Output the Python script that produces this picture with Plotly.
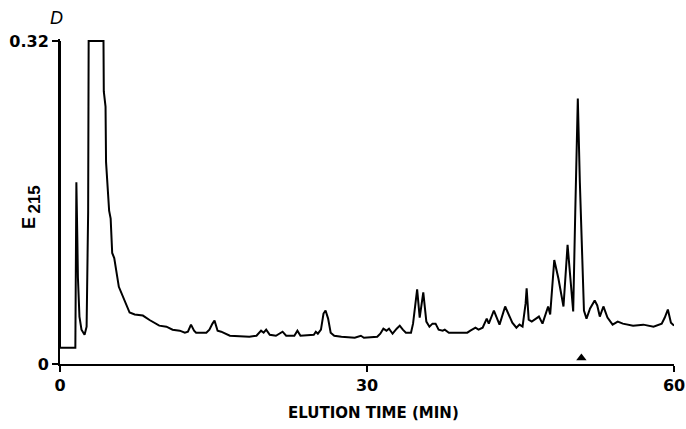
import plotly.graph_objects as go

# Elution time (min) and absorbance at 215 nm
time_min = [
    0.0, 0.0, 1.5, 1.55, 1.6, 1.7, 1.75, 1.9, 2.1, 2.4, 2.6, 2.75, 2.8,
    4.25, 4.28, 4.45, 4.5, 4.8, 4.95, 5.1, 5.3, 5.75, 6.15, 6.5, 6.8, 7.3,
    7.8, 8.1, 8.75, 9.0, 9.7, 10.4, 11.0, 11.7, 12.2, 12.5, 12.8, 13.1, 13.3,
    14.3, 14.6, 14.9, 15.1, 15.4, 15.75, 16.6, 18.5, 19.2, 19.65, 19.9, 20.15,
    20.5, 21.1, 21.75, 22.1, 22.9, 23.2, 23.5, 24.8, 25.0, 25.2, 25.5, 25.75,
    25.95, 26.2, 26.45, 26.8, 27.5, 28.8, 29.4, 29.7, 31.0, 31.3, 31.6, 31.9,
    32.15, 32.5, 32.9, 33.2, 33.5, 33.8, 34.3, 34.5, 34.9, 35.15, 35.5, 35.8,
    36.1, 36.4, 36.7, 37.0, 37.4, 37.6, 38.0, 39.0, 39.8, 40.1, 40.6, 40.9,
    41.3, 41.7, 41.9, 42.4, 42.95, 43.5, 44.2, 44.6, 44.9, 45.2, 45.5, 45.6,
    45.8, 46.1, 46.5, 46.8, 47.15, 47.5, 47.7, 47.9, 48.3, 48.7, 49.1, 49.2,
    49.6, 49.9, 50.15, 50.35, 50.6, 50.8, 51.2, 51.45, 51.8, 52.25, 52.5,
    52.75, 53.1, 53.5, 54.0, 54.5, 55.0, 56.0, 57.0, 58.0, 58.8, 59.1, 59.4,
    59.7, 60.0,
]
absorbance = [
    0.32, 0.016, 0.016, 0.10, 0.18, 0.12, 0.086, 0.047, 0.034, 0.029, 0.037, 0.15, 0.32,
    0.32, 0.27, 0.255, 0.20, 0.152, 0.144, 0.11, 0.105, 0.0765, 0.067, 0.057, 0.051, 0.049,
    0.048, 0.048, 0.0436, 0.042, 0.038, 0.037, 0.034, 0.033, 0.031, 0.032, 0.039, 0.033, 0.031,
    0.031, 0.034, 0.040, 0.043, 0.033, 0.032, 0.028, 0.027, 0.028, 0.033, 0.031, 0.034,
    0.029, 0.028, 0.032, 0.028, 0.028, 0.033, 0.028, 0.029, 0.032, 0.030, 0.034, 0.050,
    0.053, 0.045, 0.031, 0.028, 0.027, 0.026, 0.028, 0.026, 0.027, 0.030, 0.035, 0.033,
    0.035, 0.030, 0.035, 0.038, 0.034, 0.031, 0.031, 0.040, 0.074, 0.046, 0.071, 0.042,
    0.037, 0.040, 0.040, 0.034, 0.033, 0.034, 0.031, 0.031, 0.031, 0.033, 0.036, 0.034,
    0.036, 0.045, 0.040, 0.053, 0.039, 0.057, 0.041, 0.036, 0.039, 0.037, 0.060, 0.075,
    0.044, 0.042, 0.045, 0.047, 0.040, 0.052, 0.057, 0.049, 0.103, 0.085, 0.060, 0.057,
    0.118, 0.085, 0.052, 0.15, 0.263, 0.18, 0.053, 0.045, 0.055, 0.063, 0.058,
    0.047, 0.057, 0.046, 0.039, 0.042, 0.040, 0.038, 0.039, 0.037, 0.040, 0.046, 0.054,
    0.041, 0.038,
]

# Marker (arrowhead) below the main peak
marker_time = [50.95]
marker_value = [0.006]

x_ticks = [0, 30, 60]
x_tick_labels = ["0", "30", "60"]
y_ticks = [0, 0.32]
y_tick_labels = ["0", "0.32"]

fig = go.Figure()
fig.add_trace(go.Scatter(
    x=time_min, y=absorbance, mode="lines",
    line=dict(color="black", width=2),
    showlegend=False, hoverinfo="skip",
))
fig.add_trace(go.Scatter(
    x=marker_time, y=marker_value, mode="markers",
    marker=dict(symbol="triangle-up", size=9, color="black"),
    showlegend=False, hoverinfo="skip", cliponaxis=False,
))

tick_font = dict(family="DejaVu Sans", size=16, color="black", weight="bold")

fig.update_layout(
    width=686, height=429,
    margin=dict(l=60, r=12, t=39, b=65, autoexpand=False),
    paper_bgcolor="white", plot_bgcolor="white",
    xaxis=dict(
        range=[0, 60], showgrid=False, zeroline=False, automargin=False,
        showline=True, linecolor="black", linewidth=2,
        ticks="outside", ticklen=6, tickwidth=2, tickcolor="black",
        tickvals=x_ticks, ticktext=x_tick_labels, tickfont=tick_font,
    ),
    yaxis=dict(
        range=[0, 0.322], showgrid=False, zeroline=False, automargin=False,
        showline=True, linecolor="black", linewidth=2,
        ticks="outside", ticklen=6, tickwidth=2, tickcolor="black",
        tickvals=y_ticks, ticktext=y_tick_labels, tickfont=tick_font,
    ),
    annotations=[
        dict(text="ELUTION TIME (MIN)", xref="paper", yref="paper",
             x=0.51, y=0, xanchor="center", yanchor="middle", yshift=-49,
             showarrow=False,
             font=dict(family="DejaVu Sans", size=15, color="black", weight="bold")),
        dict(text="D", xref="paper", yref="paper",
             x=-0.005, y=1, xanchor="center", yanchor="middle", yshift=21,
             showarrow=False,
             font=dict(family="Liberation Sans", size=18, color="black", style="italic")),
        dict(text="E", xref="paper", yref="paper", textangle=-90,
             x=-0.0516, y=0.435, xanchor="center", yanchor="middle",
             showarrow=False,
             font=dict(family="Liberation Sans", size=18, color="black", weight="bold")),
        dict(text="215", xref="paper", yref="paper", textangle=-90,
             x=-0.0407, y=0.506, xanchor="center", yanchor="middle",
             showarrow=False,
             font=dict(family="Liberation Sans", size=17, color="black", weight="bold")),
    ],
)

fig.write_html("out.html")
